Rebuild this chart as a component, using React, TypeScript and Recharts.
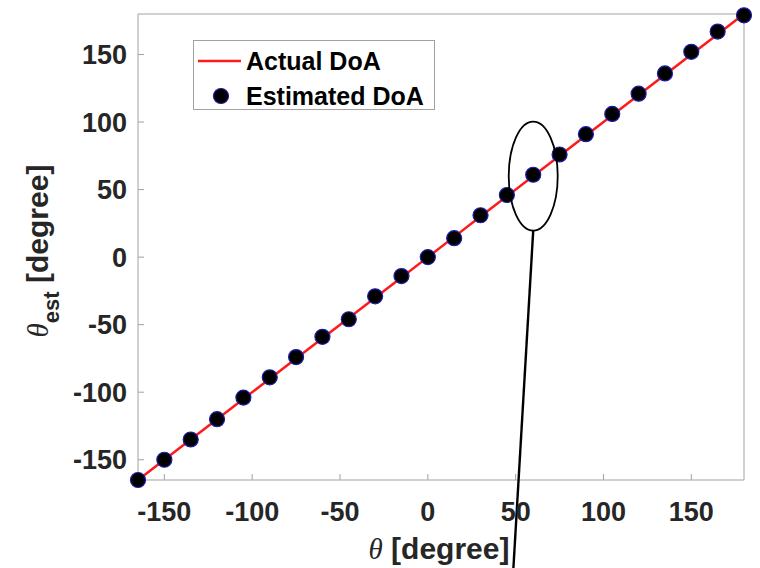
import React from "react";
import {
  ComposedChart,
  Line,
  Scatter,
  XAxis,
  YAxis,
  ReferenceDot,
} from "recharts";

// True arrival angles (x) and the estimated angles (markers)
const thetaDeg = [-165, -150, -135, -120, -105, -90, -75, -60, -45, -30, -15, 0, 15, 30, 45, 60, 75, 90, 105, 120, 135, 150, 165, 180];
const actualDoa = [-165, -150, -135, -120, -105, -90, -75, -60, -45, -30, -15, 0, 15, 30, 45, 60, 75, 90, 105, 120, 135, 150, 165, 180];
const estimatedDoa = [-165, -150, -135, -120, -104, -89, -74, -59, -46, -29, -14, 0, 14, 31, 46, 61, 76, 91, 106, 121, 136, 152, 167, 179];

const axisDomain = [-165, 180];
const axisTicks = [-150, -100, -50, 0, 50, 100, 150];

// highlighted point (ellipse annotation)
const highlightTheta = 60;
const highlightEst = 60;

const data = thetaDeg.map((t, i) => ({ theta: t, actual: actualDoa[i], est: estimatedDoa[i] }));

const FONT = "'Liberation Sans', Arial, Helvetica, sans-serif";
const TICK_COLOR = "#262626";
const BOX_COLOR = "#a2a2a2";

const tickStyle = { fontSize: 27, fontWeight: 700, fill: TICK_COLOR, fontFamily: FONT };

function MarkerDot(props: any) {
  const { cx, cy } = props;
  if (cx == null || cy == null) return null;
  return <circle cx={cx} cy={cy} r={7.5} fill="#000" stroke="#1c1ca8" strokeWidth={1.2} />;
}

function EllipseCallout(props: any) {
  const { cx, cy } = props;
  if (cx == null || cy == null) return null;
  return (
    <g>
      <ellipse cx={cx} cy={cy} rx={24.5} ry={54.5} fill="none" stroke="#000" strokeWidth={1.8} />
      <line x1={cx} y1={cy + 54.5} x2={cx - 20} y2={cy + 395} stroke="#000" strokeWidth={2.4} />
    </g>
  );
}

function XTitle() {
  return (
    <text x={439} y={559} textAnchor="middle" fill={TICK_COLOR} style={{ fontFamily: FONT, fontSize: 30, fontWeight: 700 }}>
      <tspan style={{ fontFamily: "'Liberation Serif', 'Times New Roman', serif", fontStyle: "italic", fontWeight: 400, fontSize: 29 }}>θ</tspan>
      <tspan> [degree]</tspan>
    </text>
  );
}

function YTitle() {
  return (
    <text
      x={251}
      y={48}
      transform="rotate(-90 0 0)"
      textAnchor="middle"
      fill={TICK_COLOR}
      style={{ fontFamily: FONT, fontSize: 30, fontWeight: 700 }}
    >
      <tspan x={-251} style={{ fontFamily: "'Liberation Serif', 'Times New Roman', serif", fontStyle: "italic", fontWeight: 400, fontSize: 29 }}>θ</tspan>
      <tspan dy={11} style={{ fontSize: 22 }}>est</tspan>
      <tspan dy={-11}> [degree]</tspan>
    </text>
  );
}

function LegendBox() {
  return (
    <div
      style={{
        position: "absolute",
        left: 193,
        top: 40,
        width: 242,
        height: 70,
        boxSizing: "border-box",
        border: `1px solid ${BOX_COLOR}`,
        background: "#fff",
        fontFamily: FONT,
        fontWeight: 700,
        fontSize: 25,
        color: "#000",
      }}
    >
      <div style={{ position: "absolute", left: 4, top: 5, display: "flex", alignItems: "center", height: 30 }}>
        <svg width={44} height={10}>
          <line x1={0} y1={5} x2={43} y2={5} stroke="#ff1a1a" strokeWidth={2.5} />
        </svg>
        <span style={{ marginLeft: 4, lineHeight: "30px" }}>Actual DoA</span>
      </div>
      <div style={{ position: "absolute", left: 4, top: 40, display: "flex", alignItems: "center", height: 30 }}>
        <svg width={44} height={20}>
          <circle cx={23} cy={10} r={7.5} fill="#000" stroke="#1c1ca8" strokeWidth={1.2} />
        </svg>
        <span style={{ marginLeft: 4, lineHeight: "30px" }}>Estimated DoA</span>
      </div>
    </div>
  );
}

export default function App() {
  return (
    <div style={{ position: "absolute", left: 0, top: 0, width: 760, height: 568, background: "#fff", overflow: "hidden" }}>
      <ComposedChart width={760} height={568} data={data} margin={{ top: 13, right: 15, bottom: 0, left: 0 }}>
        <XAxis
          xAxisId="main"
          dataKey="theta"
          type="number"
          domain={axisDomain}
          ticks={axisTicks}
          height={88}
          stroke={BOX_COLOR}
          tickSize={-6}
          tickMargin={28}
          tick={tickStyle}
        />
        <XAxis
          xAxisId="top"
          orientation="top"
          type="number"
          domain={axisDomain}
          ticks={axisTicks}
          allowDataOverflow
          height={1}
          stroke={BOX_COLOR}
          tickSize={-6}
          tick={false}
        />
        <YAxis
          yAxisId="main"
          type="number"
          domain={axisDomain}
          ticks={axisTicks}
          width={138}
          stroke={BOX_COLOR}
          tickSize={-6}
          tickMargin={17}
          tick={tickStyle}
        />
        <YAxis
          yAxisId="right"
          orientation="right"
          type="number"
          domain={axisDomain}
          ticks={axisTicks}
          allowDataOverflow
          width={1}
          stroke={BOX_COLOR}
          tickSize={-6}
          tick={false}
        />
        <Line
          xAxisId="main"
          yAxisId="main"
          type="linear"
          dataKey="actual"
          stroke="#ff1a1a"
          strokeWidth={2.5}
          dot={false}
          isAnimationActive={false}
        />
        <Scatter
          xAxisId="main"
          yAxisId="main"
          dataKey="est"
          shape={MarkerDot}
          isAnimationActive={false}
        />
        <ReferenceDot
          xAxisId="main"
          yAxisId="main"
          x={highlightTheta}
          y={highlightEst}
          ifOverflow="visible"
          shape={EllipseCallout}
        />
        <XTitle />
        <YTitle />
      </ComposedChart>
      <LegendBox />
    </div>
  );
}
